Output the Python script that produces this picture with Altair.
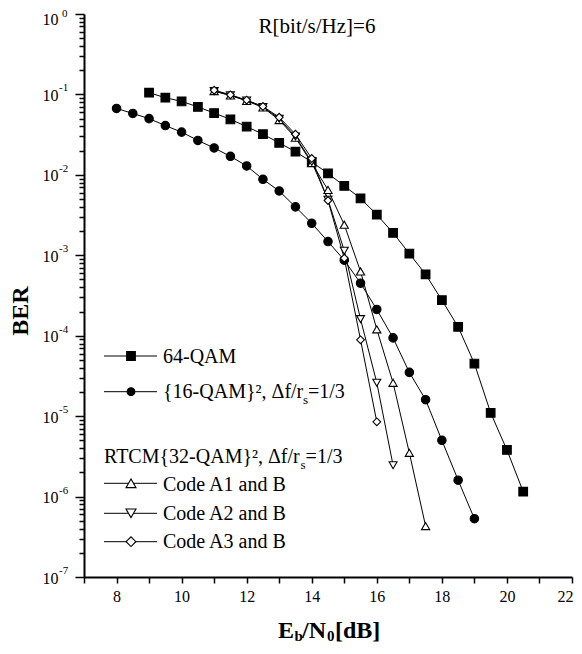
import altair as alt
import pandas as pd

FONT = "Liberation Serif"

# ---------------- data ----------------
qam64_x = [9, 9.5, 10, 10.5, 11, 11.5, 12, 12.5, 13, 13.5, 14, 14.5, 15, 15.5,
           16, 16.5, 17, 17.5, 18, 18.5, 19, 19.5, 20, 20.5]
qam64_ber = [0.105, 0.091, 0.082, 0.070, 0.0587, 0.049, 0.0398, 0.032, 0.025, 0.0194,
             0.0145, 0.0104, 0.0073, 0.0051, 0.0032, 0.0019, 0.00105, 0.00058,
             0.000277, 0.000129, 4.5e-5, 1.1e-5, 3.8e-6, 1.15e-6]

qam16_x = [8, 8.5, 9, 9.5, 10, 10.5, 11, 11.5, 12, 12.5, 13, 13.5, 14, 14.5, 15,
           15.5, 16, 16.5, 17, 17.5, 18, 18.5, 19]
qam16_ber = [0.067, 0.058, 0.050, 0.041, 0.034, 0.0268, 0.0216, 0.017, 0.0129, 0.0088,
             0.0063, 0.0040, 0.0025, 0.00148, 0.00087, 0.00045, 0.000212, 9.4e-5,
             3.5e-5, 1.6e-5, 5.0e-6, 1.6e-6, 5.3e-7]

a1_x = [11, 11.5, 12, 12.5, 13, 13.5, 14, 14.5, 15, 15.5, 16, 16.5, 17, 17.5]
a1_ber = [0.11, 0.097, 0.083, 0.069, 0.048, 0.029, 0.014, 0.0065, 0.0024, 0.00063,
          0.00012, 2.6e-5, 3.5e-6, 4.3e-7]

a2_x = [11, 11.5, 12, 12.5, 13, 13.5, 14, 14.5, 15, 15.5, 16, 16.5]
a2_ber = [0.11, 0.098, 0.084, 0.070, 0.050, 0.030, 0.0145, 0.0049, 0.00114, 0.000161,
          2.6e-5, 2.45e-6]

a3_x = [11, 11.5, 12, 12.5, 13, 13.5, 14, 14.5, 15, 15.5, 16]
a3_ber = [0.113, 0.099, 0.085, 0.071, 0.052, 0.032, 0.016, 0.0048, 0.00092, 8.9e-5,
          8.5e-6]

series_names = ["64-QAM", "{16-QAM}²", "Code A1 and B", "Code A2 and B", "Code A3 and B"]
series_shapes = ["square", "circle", "triangle-up", "triangle-down", "diamond"]
series_fills = ["black", "black", "white", "white", "white"]
series_sizes = [75, 60, 100, 100, 95]

x_ticks = [7, 8, 9, 10, 11, 12, 13, 14, 15, 16, 17, 18, 19, 20, 21, 22]
y_exponents = [0, -1, -2, -3, -4, -5, -6, -7]
y_minor_mult = [1, 2, 3, 4, 5, 6, 7, 8, 9]

# ---------------- tables ----------------
rows = []
for name, xs, ys in zip(series_names,
                        [qam64_x, qam16_x, a1_x, a2_x, a3_x],
                        [qam64_ber, qam16_ber, a1_ber, a2_ber, a3_ber]):
    for xv, yv in zip(xs, ys):
        rows.append({"series": name, "x": xv, "ber": yv})
df = pd.DataFrame(rows)

y_ticks = [1.0] + [m * 10.0 ** e for e in y_exponents[1:] for m in y_minor_mult]
exp_top = pd.DataFrame({"ber": [10.0 ** y_exponents[0]], "lab": [str(y_exponents[0])]})
exp_df = pd.DataFrame({"ber": [10.0 ** e for e in y_exponents[1:]],
                       "lab": [str(e) for e in y_exponents[1:]]})

POW = "abs(log(datum.value)/LN10 - round(log(datum.value)/LN10)) < 0.000001"

xscale = alt.Scale(domain=[7, 22], nice=False, zero=False)
yscale = alt.Scale(type="log", domain=[1e-7, 1], nice=False)

xaxis = alt.Axis(values=x_ticks, labelExpr="datum.value % 2 == 0 ? datum.label : ''",
                 tickSize=6, tickWidth=1.5, domainWidth=2, domainColor="black",
                 tickColor="black", labelFont=FONT, labelFontSize=16, labelColor="black",
                 labelPadding=5, labelFlush=False, labelOverlap=False, grid=False,
                 labelOffset={"condition": {"test": "datum.value == 22", "value": -7}, "value": 0},
                 title=None)
yaxis = alt.Axis(values=y_ticks, labelExpr=POW + " ? '10' : ''",
                 tickSize={"condition": {"test": POW, "value": 9}, "value": 5},
                 labelOffset={"condition": {"test": "datum.value == 1", "value": 5}, "value": 1},
                 tickWidth=1.5, domainWidth=2, domainColor="black", tickColor="black",
                 labelFont=FONT, labelFontSize=16, labelColor="black", labelPadding=17,
                 labelFlush=False, labelOverlap=False, grid=False, title=None)

X = alt.X("x:Q", scale=xscale, axis=xaxis)
Y = alt.Y("ber:Q", scale=yscale, axis=yaxis)

lines = alt.Chart(df).mark_line(color="black", strokeWidth=1).encode(
    x=X, y=Y, detail="series:N",
)

points = alt.Chart(df).mark_point(opacity=1, stroke="black", strokeWidth=1.1).encode(
    x=X, y=Y,
    shape=alt.Shape("series:N", scale=alt.Scale(domain=series_names, range=series_shapes), legend=None),
    fill=alt.Fill("series:N", scale=alt.Scale(domain=series_names, range=series_fills), legend=None),
    size=alt.Size("series:N", scale=alt.Scale(domain=series_names, range=series_sizes), legend=None),
)

exps = alt.Chart(exp_df).mark_text(font=FONT, fontSize=11, align="left",
                                   baseline="middle", dy=-6, color="black").encode(
    x=alt.value(-25), y=Y, text="lab:N",
)
exps_top = alt.Chart(exp_top).mark_text(font=FONT, fontSize=11, align="left",
                                        baseline="middle", dy=-0.5, color="black").encode(
    x=alt.value(-22), y=Y, text="lab:N",
)

ONE = alt.Data(values=[{}])


def txt(s, x, y, size=20, weight="normal", align="left", baseline="alphabetic", angle=0):
    mk = dict(text=s, font=FONT, fontSize=size, fontWeight=weight, align=align,
              baseline=baseline, color="black")
    if angle:
        mk["angle"] = angle
    return alt.Chart(ONE).mark_text(**mk).encode(x=alt.value(x), y=alt.value(y))


annots = []
annots.append(txt("R[bit/s/Hz]=6", 233, 19, size=21, align="center"))
annots.append(txt("BER", -63, 297, size=24, weight="bold", align="center",
                  baseline="middle", angle=270))
# x title E_b/N_0[dB]
TB = 624
annots.append(txt("E", 194, TB, size=24, weight="bold"))
annots.append(txt("b", 210.5, TB + 3, size=15, weight="bold"))
annots.append(txt("/N", 218, TB, size=24, weight="bold"))
annots.append(txt("0", 243, TB + 3, size=15, weight="bold"))
annots.append(txt("[dB]", 251, TB, size=24, weight="bold"))

# legend
leg_rows = [342, 377.7, 469.3, 499.3, 527.7]
leg_base = [349.3, 384, 476.7, 506, 534.3]
for i, (ry, by) in enumerate(zip(leg_rows, leg_base)):
    annots.append(alt.Chart(ONE).mark_rule(color="black", strokeWidth=1).encode(
        x=alt.value(20), x2=alt.value(73), y=alt.value(ry)))
    annots.append(alt.Chart(ONE).mark_point(
        shape=series_shapes[i], fill=series_fills[i], stroke="black", strokeWidth=1.1,
        size=series_sizes[i], opacity=1).encode(x=alt.value(47), y=alt.value(ry)))
annots.append(txt("64-QAM", 79, leg_base[0]))
annots.append(txt("{16-QAM}², Δf/r", 79, leg_base[1]))
annots.append(txt("s", 219, leg_base[1] + 6, size=13))
annots.append(txt("=1/3", 224, leg_base[1]))
annots.append(txt("RTCM{32-QAM}², Δf/r", 20, 449))
annots.append(txt("s", 216.5, 455, size=13))
annots.append(txt("=1/3", 221.6, 449))
annots.append(txt("Code A1 and B", 79, leg_base[2]))
annots.append(txt("Code A2 and B", 79, leg_base[3]))
annots.append(txt("Code A3 and B", 79, leg_base[4]))

chart = alt.layer(lines, points, exps, exps_top, *annots).properties(
    width=488, height=563,
    padding={"left": 76, "top": 6, "right": 2, "bottom": 69},
    autosize=alt.AutoSizeParams(type="none"),
).configure_view(stroke=None)

chart.save("out.html", embed_options={"renderer": "svg", "actions": False})
